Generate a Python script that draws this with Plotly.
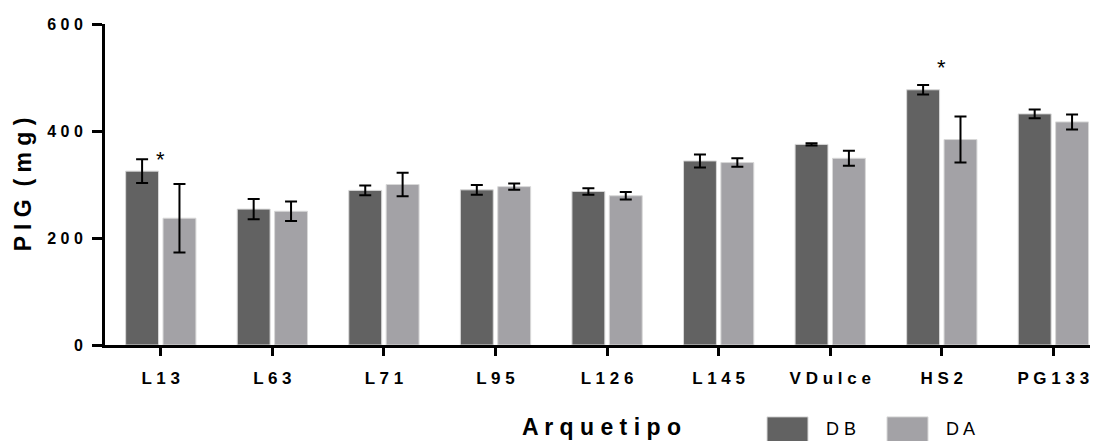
import plotly.graph_objects as go

categories = ["L13", "L63", "L71", "L95", "L126", "L145", "VDulce", "HS2", "PG133"]
series_names = ["DB", "DA"]
db_values = [325, 254, 289, 290, 287, 344, 375, 477, 432]
db_errors = [22, 19, 9, 9, 6, 12, 2, 9, 8]
da_values = [237, 250, 300, 296, 279, 341, 349, 384, 417]
da_errors = [64, 18, 22, 6, 7, 8, 14, 43, 14]
y_ticks = [0, 200, 400, 600]
sig_categories = ["L13", "HS2"]
sig_y = [346, 519]

colors = ["#626262", "#a3a2a6"]
FONT = "Liberation Sans"

# layout geometry (figure pixels; page is offset by the 8px body margin)
L, R, T, B = 97, 8, 11, 104
W_FIG, H_FIG = 1098, 441
PW = W_FIG - L - R
PH = H_FIG - T - B


def px(x):
    return (x - L) / PW


def py(y):
    return (H_FIG - B - y) / PH


def spaced(s):
    return " ".join(s)


fig = go.Figure()
for name, vals, errs, col in zip(series_names, [db_values, da_values], [db_errors, da_errors], colors):
    fig.add_trace(go.Bar(
        x=list(range(len(categories))), y=vals, name=name,
        marker=dict(color=col, line=dict(color="#d8d8d8", width=1)),
        error_y=dict(type="data", array=errs, visible=True, color="black", thickness=2, width=6),
        showlegend=False,
    ))

# significance asterisks
for c, yv in zip(sig_categories, sig_y):
    fig.add_annotation(x=categories.index(c), y=yv, text="*", showarrow=False,
                       font=dict(family=FONT, size=22, color="black"), xref="x", yref="y")

# legend drawn manually with large swatches
leg_x = [759, 879]
for i, (name, col) in enumerate(zip(series_names, colors)):
    fig.add_shape(type="rect", xref="paper", yref="paper", x0=px(leg_x[i]), x1=px(leg_x[i] + 41),
                  y0=py(435), y1=py(410),
                  fillcolor=col, line=dict(color="#d8d8d8", width=1), layer="above")
    fig.add_annotation(xref="paper", yref="paper", x=px(leg_x[i] + 57),
                       y=py(422), text=spaced(name), showarrow=False,
                       xanchor="left", yanchor="middle",
                       font=dict(family=FONT, size=18, color="black"))

fig.update_layout(
    width=W_FIG, height=H_FIG,
    margin=dict(l=L, r=R, t=T, b=B),
    plot_bgcolor="white", paper_bgcolor="white",
    barmode="group", bargap=0.33, bargroupgap=0.12,
    font=dict(family=FONT, color="black"),
)
fig.update_xaxes(
    range=[-0.5, 8.4], tickmode="array", tickvals=list(range(len(categories))),
    ticktext=[spaced(c) for c in categories],
    showline=True, linecolor="black", linewidth=3, ticks="outside", ticklen=8, tickwidth=3,
    tickcolor="black", showgrid=False, zeroline=False,
    tickfont=dict(family=FONT, size=17, weight="bold", color="black"), ticklabelstandoff=8,
    title=dict(text=spaced("Arquetipo"), font=dict(family=FONT, size=23, weight="bold", color="black"), standoff=32),
)
fig.update_yaxes(
    range=[0, 600], tickmode="array", tickvals=y_ticks, ticktext=[spaced(str(t)) for t in y_ticks],
    showline=True, linecolor="black", linewidth=3, ticks="outside", ticklen=10, tickwidth=3,
    tickcolor="black", showgrid=False, zeroline=False,
    tickfont=dict(family=FONT, size=16, weight="bold", color="black"), ticklabelstandoff=6,
    title=dict(text="P I G  ( m g )", font=dict(family=FONT, size=23, weight="bold", color="black"), standoff=10),
)

fig.write_html("out.html")
